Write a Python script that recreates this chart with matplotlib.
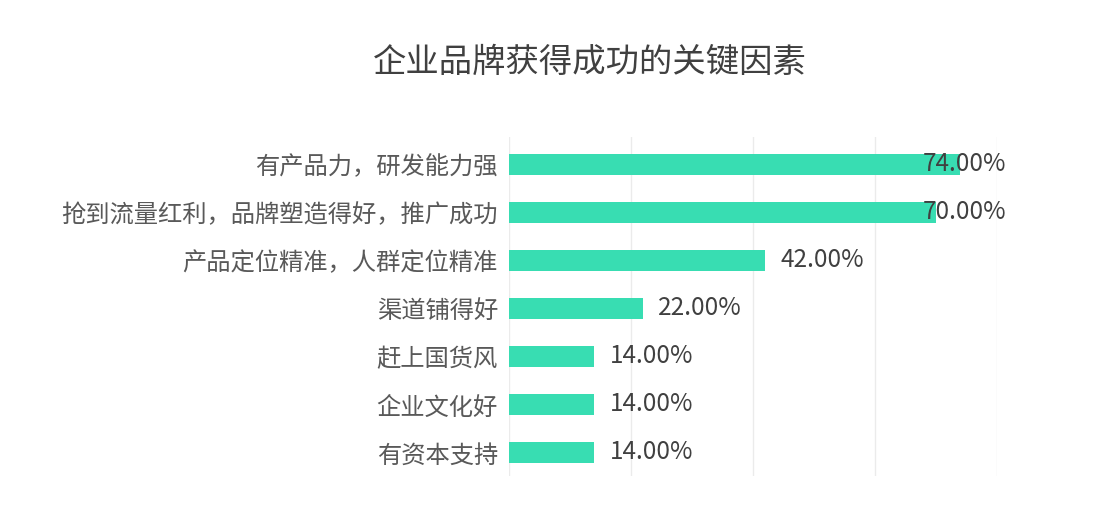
import matplotlib
matplotlib.use("Agg")
import matplotlib.pyplot as plt
from matplotlib.transforms import offset_copy

plt.rcParams['font.family'] = ['Noto Sans CJK SC', 'DejaVu Sans']

title = "企业品牌获得成功的关键因素"
categories = ["有产品力，研发能力强", "抢到流量红利，品牌塑造得好，推广成功", "产品定位精准，人群定位精准",
              "渠道铺得好", "赶上国货风", "企业文化好", "有资本支持"]
values = [74, 70, 42, 22, 14, 14, 14]
xticks = [0, 20, 40, 60, 80]

W, H = 1110, 523
fig = plt.figure(figsize=(W / 100, H / 100), dpi=100)
ax = fig.add_axes([509 / W, 1 - 476 / H, (997 - 509) / W, (476 - 137) / H])

ypos = list(range(len(categories)))
ax.barh(ypos, values, height=0.44, color="#38DDB2", zorder=2)
ax.set_xlim(0, 80)
ax.set_ylim(len(categories) - 0.5 - 0.01, -0.5 - 0.07)
ax.set_xticks(xticks)
ax.set_xticklabels([])
ax.tick_params(axis='both', length=0)
ax.set_yticks(ypos)
ax.set_yticklabels(categories, fontsize=17.5, color="#595959")
ax.tick_params(axis='y', pad=8)
ax.grid(axis='x', color="#EBEBEB", linewidth=1, zorder=0)
for s in ax.spines.values():
    s.set_visible(False)

fig.canvas.draw()
renderer = fig.canvas.get_renderer()
limit_px = 1006
for y, v in zip(ypos, values):
    t = ax.text(v, y, f"{v:.2f}%", fontsize=17.5, color="#404040", va='center', ha='left', zorder=3,
                transform=offset_copy(ax.transData, fig=fig, x=15, y=0, units='dots'))
    bb = t.get_window_extent(renderer)
    if bb.x1 > limit_px:
        t.set_transform(ax.transData)
        xr = ax.transData.inverted().transform((limit_px, 0))[0]
        t.set_position((xr, y))
        t.set_ha('right')

fig.text(590 / W, 1 - 62 / H, title, fontsize=24, color="#404040", ha='center', va='center', fontweight='medium')

fig.savefig("out.png", dpi=100, facecolor="white")
